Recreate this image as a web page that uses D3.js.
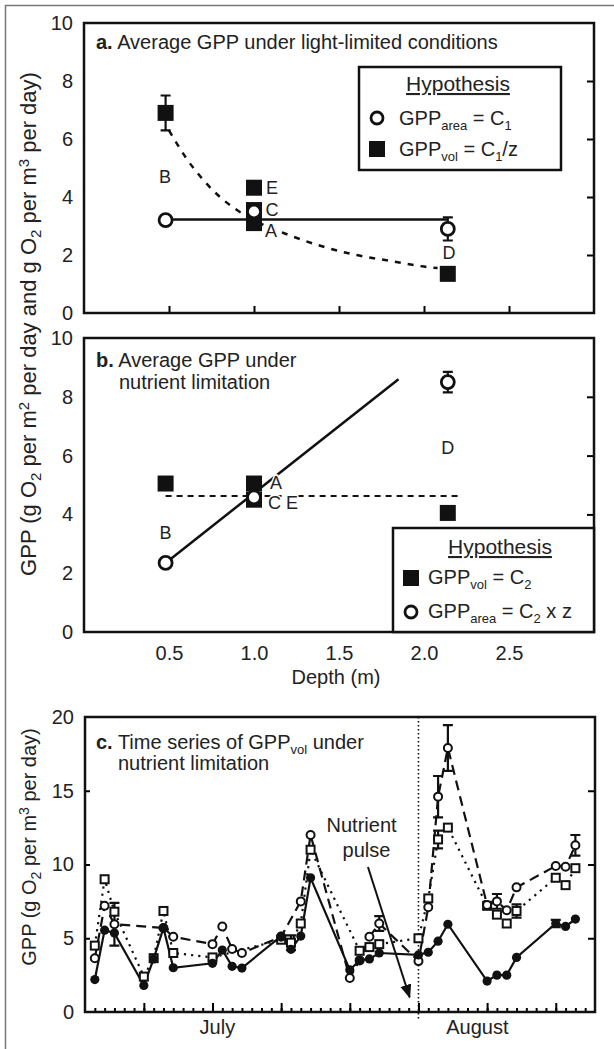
<!DOCTYPE html>
<html>
<head>
<meta charset="utf-8">
<title>GPP vs depth</title>
<script src="https://cdn.jsdelivr.net/npm/d3@7"></script>
<style>
  body { margin: 0; background: #fff; }
  svg text { font-family: 'Liberation Sans', Arial, sans-serif; fill: #222; }
</style>
</head>
<body>
<script>
// ---- panel a: light-limited ----
var areaDepthA = [0.48, 1.0, 2.14];
var areaA      = [3.2, 3.5, 2.9];
var areaErrA   = [0, 0, 0.4];
var volDepthA  = [0.48, 1.0, 1.0, 1.0, 2.14];
var volA       = [6.9, 4.32, 3.55, 3.1, 1.35];
var volErrA    = [0.6, 0, 0, 0, 0];
var meanAreaA  = 3.22;
var curveZ     = [0.5, 0.6, 0.7, 0.8, 0.9, 1.0, 1.2, 1.4, 1.6, 1.8, 2.0, 2.08];
var curveA     = [6.3, 5.35, 4.6, 4.0, 3.55, 3.2, 2.7, 2.3, 2.0, 1.8, 1.6, 1.55];
var lakeA      = ["B", "E", "C", "A", "D"];
var lakeAz     = [0.476, 1.106, 1.106, 1.10, 2.147];
var lakeAv     = [4.69, 4.33, 3.57, 2.86, 2.07];

// ---- panel b: nutrient limitation ----
var volDepthB  = [0.48, 1.0, 1.0, 2.14];
var volB       = [5.05, 5.05, 4.5, 4.05];
var areaDepthB = [0.48, 1.0, 2.14];
var areaB      = [2.35, 4.58, 8.5];
var areaErrB   = [0, 0, 0.35];
var meanVolB   = 4.63;
var fitZ       = [0.48, 1.85];
var fitB       = [2.35, 8.6];
var lakeB      = ["B", "A", "C E", "D"];
var lakeBz     = [0.48, 1.13, 1.17, 2.14];
var lakeBv     = [3.37, 5.07, 4.39, 6.26];
var depthTicks = [0.5, 1.0, 1.5, 2.0, 2.5];
var gppTicks   = [0, 2, 4, 6, 8, 10];

// ---- panel c: time series (day of record) ----
var fillDays = [1,2,3,6,7,8,9,13,14,15,16,20,21,22,23,27,28,29,30,34,35,36,37,41,42,43,44,48,49,50];
var fillGpp  = [2.2,5.55,5.35,1.8,3.6,5.7,3.0,3.3,4.2,3.1,2.98,5.15,4.25,5.15,9.1,2.85,3.5,3.6,4.0,3.87,4.05,4.8,5.95,2.1,2.5,2.5,3.7,6.0,5.8,6.3];
var circDays = [1,2,3,8,9,13,14,15,16,20,22,23,27,28,29,30,34,35,36,37,41,42,43,44,48,49,50];
var circGpp  = [3.65,7.2,5.95,5.7,5.1,4.6,5.8,4.27,4.0,5.1,7.5,12.0,2.3,3.5,5.1,6.0,3.45,7.1,14.6,17.9,7.25,7.5,6.9,8.45,9.9,9.85,11.3];
var sqDays   = [1,2,3,6,7,8,9,13,20,21,22,23,28,29,30,34,35,36,37,41,42,43,44,48,49,50];
var sqGpp    = [4.5,9.0,6.8,2.4,3.65,6.85,4.0,3.7,4.9,4.7,6.0,11.0,4.15,4.4,4.6,5.0,7.7,11.7,12.5,7.2,6.6,6.0,6.85,9.1,8.6,9.75];
var circErrDays = [3, 30, 36, 37, 42, 50];
var circErr     = [1.45, 0.5, 1.4, 1.55, 0.5, 0.7];
var sqErrDays   = [21, 36, 44];
var sqErr       = [0.5, 0.6, 0.45];
var fillErrDays = [48];
var fillErr     = [0.25];
var pulseDay = 34;
var months = ["July", "August"];
var monthMid = [13.5, 40];
var cTicks = [0, 5, 10, 15, 20];

var W = 614, H = 1049;
var svg = d3.select("body").append("svg").attr("width", W).attr("height", H);

var x  = d3.scaleLinear().domain([0, 3]).range([84, 594]);
var yA = d3.scaleLinear().domain([0, 10]).range([313, 23]);
var yB = d3.scaleLinear().domain([0, 10]).range([632, 338]);
var xC = d3.scaleLinear().domain([0, 52]).range([85, 595]);
var yC = d3.scaleLinear().domain([0, 20]).range([1012, 717]);

// page frame (top + left)
svg.append("path").attr("d", "M5.5," + H + "V5.5H" + W)
  .attr("fill", "none").attr("stroke", "#777").attr("stroke-width", 1.5);

// text with sub/superscripts: parts = [[str, "sub"|"sup"|"b"|null], ...]
function rich(t, parts, small) {
  var shift = 0;
  parts.forEach(function(p) {
    var ts = t.append("tspan").text(p[0]);
    var want = p[1] == "sub" ? 5 : p[1] == "sup" ? -7 : 0;
    if (want != shift) { ts.attr("dy", want - shift); shift = want; }
    if (p[1] == "sub" || p[1] == "sup") ts.attr("font-size", small || 13);
    if (p[1] == "b") ts.attr("font-weight", "bold");
  });
  return t;
}

function noDomain(g) { g.select(".domain").remove(); }

function axesFor(g, xs, ys, yTicks, rightTicks, showBottomTicks) {
  var x0 = xs.range()[0], x1 = xs.range()[1], y0 = ys.range()[0], y1 = ys.range()[1];
  g.append("g").attr("transform", "translate(" + x0 + ",0)")
    .call(d3.axisLeft(ys).tickValues(yTicks).tickSize(0).tickPadding(11))
    .attr("font-size", 20).call(noDomain);
  g.append("g").attr("transform", "translate(" + x1 + ",0)")
    .call(d3.axisLeft(ys).tickValues(rightTicks).tickSize(7).tickFormat(""))
    .attr("stroke-width", 2).call(noDomain);
  if (showBottomTicks) {
    g.append("g").attr("transform", "translate(0," + y0 + ")")
      .call(d3.axisTop(xs).tickValues(depthTicks).tickSize(7).tickFormat(""))
      .attr("stroke-width", 2).call(noDomain);
  }
  g.append("rect").attr("x", x0).attr("y", y1).attr("width", x1 - x0).attr("height", y0 - y1)
    .attr("fill", "none").attr("stroke", "#111").attr("stroke-width", 2.5);
}

function errBars(g, xs, ys, xv, yv, ev) {
  xv.forEach(function(d, i) {
    if (!ev[i]) return;
    var cx = xs(d), hi = ys(yv[i] + ev[i]), lo = ys(yv[i] - ev[i]);
    g.append("path").attr("d", "M" + cx + "," + hi + "V" + lo + "M" + (cx - 5) + "," + hi + "H" + (cx + 5) + "M" + (cx - 5) + "," + lo + "H" + (cx + 5))
      .attr("stroke", "#111").attr("stroke-width", 2.2).attr("fill", "none");
  });
}

function squares(g, xs, ys, xv, yv, s, fill) {
  g.selectAll(null).data(xv).enter().append("rect")
    .attr("x", function(d) { return xs(d) - s / 2; })
    .attr("y", function(d, i) { return ys(yv[i]) - s / 2; })
    .attr("width", s).attr("height", s)
    .attr("fill", fill).attr("stroke", "#111").attr("stroke-width", fill == "#111" ? 0 : 2);
}

function circles(g, xs, ys, xv, yv, r, fill, sw) {
  g.selectAll(null).data(xv).enter().append("circle")
    .attr("cx", function(d) { return xs(d); })
    .attr("cy", function(d, i) { return ys(yv[i]); })
    .attr("r", r).attr("fill", fill).attr("stroke", "#111").attr("stroke-width", sw);
}

function lakeLabels(g, ys, names, zs, vs) {
  g.selectAll(null).data(names).enter().append("text")
    .attr("x", function(d, i) { return x(zs[i]); })
    .attr("y", function(d, i) { return ys(vs[i]); })
    .attr("dy", "0.36em").attr("text-anchor", "middle").attr("font-size", 18)
    .attr("stroke", "#fff").attr("stroke-width", 3).attr("paint-order", "stroke")
    .text(function(d) { return d; });
}

function legendBox(g, bx0, by0, bx1, by1, hx, hy) {
  g.append("rect").attr("x", bx0).attr("y", by0).attr("width", bx1 - bx0).attr("height", by1 - by0)
    .attr("fill", "#fff").attr("stroke", "#111").attr("stroke-width", 2.5);
  g.append("text").attr("x", hx).attr("y", hy).attr("text-anchor", "middle").attr("font-size", 21)
    .style("text-decoration", "underline").text("Hypothesis");
}

// ================= panel a =================
var gA = svg.append("g");
axesFor(gA, x, yA, gppTicks, [2, 4, 6, 8], true);
gA.append("line").attr("x1", x(areaDepthA[0])).attr("x2", x(areaDepthA[2]))
  .attr("y1", yA(meanAreaA)).attr("y2", yA(meanAreaA)).attr("stroke", "#111").attr("stroke-width", 2.5);
gA.append("path").datum(curveZ)
  .attr("d", d3.line().curve(d3.curveMonotoneX).x(function(d) { return x(d); }).y(function(d, i) { return yA(curveA[i]); }))
  .attr("fill", "none").attr("stroke", "#111").attr("stroke-width", 2.5).attr("stroke-dasharray", "6,7");
errBars(gA, x, yA, volDepthA, volA, volErrA);
errBars(gA, x, yA, areaDepthA, areaA, areaErrA);
squares(gA, x, yA, volDepthA, volA, 16, "#111");
circles(gA, x, yA, areaDepthA, areaA, 6.5, "#fff", 2.8);
lakeLabels(gA, yA, lakeA, lakeAz, lakeAv);
rich(gA.append("text").attr("x", 96).attr("y", 49).attr("font-size", 20),
  [["a.", "b"], [" Average GPP under light-limited conditions", null]]);
legendBox(gA, 359, 67, 561, 170, 458, 91);
gA.append("circle").attr("cx", 377).attr("cy", 118).attr("r", 6).attr("fill", "#fff").attr("stroke", "#111").attr("stroke-width", 2.8);
gA.append("rect").attr("x", 369).attr("y", 141).attr("width", 16).attr("height", 16).attr("fill", "#111");
rich(gA.append("text").attr("x", 399).attr("y", 125).attr("font-size", 20),
  [["GPP", null], ["area", "sub"], [" = C", null], ["1", "sub"]]);
rich(gA.append("text").attr("x", 399).attr("y", 156).attr("font-size", 20),
  [["GPP", null], ["vol", "sub"], [" = C", null], ["1", "sub"], ["/z", null]]);

// ================= panel b =================
var gB = svg.append("g");
axesFor(gB, x, yB, gppTicks, [2, 4, 6, 8], false);
gB.append("g").attr("transform", "translate(0," + yB(0) + ")")
  .call(d3.axisBottom(x).tickValues(depthTicks).tickSize(0).tickPadding(14).tickFormat(d3.format(".1f")))
  .attr("font-size", 20).call(noDomain);
gB.append("text").attr("x", 336).attr("y", 684).attr("text-anchor", "middle").attr("font-size", 20).text("Depth (m)");
gB.append("line").attr("x1", x(volDepthB[0])).attr("x2", x(2.2))
  .attr("y1", yB(meanVolB)).attr("y2", yB(meanVolB))
  .attr("stroke", "#111").attr("stroke-width", 2).attr("stroke-dasharray", "6,5");
gB.append("line").attr("x1", x(fitZ[0])).attr("x2", x(fitZ[1]))
  .attr("y1", yB(fitB[0])).attr("y2", yB(fitB[1])).attr("stroke", "#111").attr("stroke-width", 2.5);
errBars(gB, x, yB, areaDepthB, areaB, areaErrB);
squares(gB, x, yB, volDepthB, volB, 16, "#111");
circles(gB, x, yB, areaDepthB, areaB, 6.5, "#fff", 2.8);
lakeLabels(gB, yB, lakeB, lakeBz, lakeBv);
rich(gB.append("text").attr("x", 96).attr("y", 367).attr("font-size", 20),
  [["b.", "b"], [" Average GPP under", null]]);
gB.append("text").attr("x", 119).attr("y", 389).attr("font-size", 20).text("nutrient limitation");
legendBox(gB, 393, 528, 594, 632, 500, 554);
gB.append("rect").attr("x", 403).attr("y", 570).attr("width", 16).attr("height", 16).attr("fill", "#111");
gB.append("circle").attr("cx", 411).attr("cy", 612).attr("r", 6).attr("fill", "#fff").attr("stroke", "#111").attr("stroke-width", 2.8);
rich(gB.append("text").attr("x", 428).attr("y", 584).attr("font-size", 20),
  [["GPP", null], ["vol", "sub"], [" = C", null], ["2", "sub"]]);
rich(gB.append("text").attr("x", 428).attr("y", 618).attr("font-size", 20),
  [["GPP", null], ["area", "sub"], [" = C", null], ["2", "sub"], [" x z", null]]);

// shared y title for a and b
rich(svg.append("text").attr("transform", "translate(36,324) rotate(-90)").attr("text-anchor", "middle").attr("font-size", 22),
  [["GPP (g O", null], ["2", "sub"], [" per m", null], ["2", "sup"], [" per day and g O", null], ["2", "sub"],
   [" per m", null], ["3", "sup"], [" per day)", null]], 15);

// ================= panel c =================
var gC = svg.append("g");
gC.append("g").attr("transform", "translate(" + xC(0) + ",0)")
  .call(d3.axisLeft(yC).tickValues(cTicks).tickSize(0).tickPadding(11))
  .attr("font-size", 20).call(noDomain);
gC.append("g").attr("transform", "translate(" + xC(0) + ",0)")
  .call(d3.axisRight(yC).tickValues([5, 10, 15]).tickSize(5).tickFormat(""))
  .attr("stroke-width", 2).call(noDomain);
gC.append("g").attr("transform", "translate(" + xC(52) + ",0)")
  .call(d3.axisLeft(yC).tickValues([5, 10, 15]).tickSize(7).tickFormat(""))
  .attr("stroke-width", 2).call(noDomain);
gC.append("g").attr("transform", "translate(0," + yC(0) + ")")
  .call(d3.axisTop(xC).tickValues(d3.range(1, 52)).tickSize(4).tickFormat(""))
  .attr("stroke-width", 2).call(noDomain);
gC.append("g").attr("transform", "translate(0," + yC(0) + ")")
  .call(d3.axisTop(xC).tickValues(d3.range(6, 52, 7)).tickSize(9).tickFormat(""))
  .attr("stroke-width", 2).call(noDomain);
gC.selectAll(null).data(months).enter().append("text")
  .attr("x", function(d, i) { return xC(monthMid[i]); }).attr("y", 1034)
  .attr("text-anchor", "middle").attr("font-size", 20).text(function(d) { return d; });

gC.append("line").attr("x1", xC(pulseDay)).attr("x2", xC(pulseDay)).attr("y1", yC(20)).attr("y2", yC(0) + 8)
  .attr("stroke", "#111").attr("stroke-width", 1.6).attr("stroke-dasharray", "1.6,2.4");

function seriesLine(days, vals, dash) {
  gC.append("path").datum(days)
    .attr("d", d3.line().x(function(d) { return xC(d); }).y(function(d, i) { return yC(vals[i]); }))
    .attr("fill", "none").attr("stroke", "#111").attr("stroke-width", 2.2)
    .attr("stroke-dasharray", dash);
}
seriesLine(sqDays, sqGpp, "2.2,5");
seriesLine(circDays, circGpp, "10,6");
seriesLine(fillDays, fillGpp, null);

function errAt(days, vals, eDays, eVals) {
  var ev = days.map(function(d) { var k = eDays.indexOf(d); return k < 0 ? 0 : eVals[k]; });
  errBars(gC, xC, yC, days, vals, ev);
}
errAt(sqDays, sqGpp, sqErrDays, sqErr);
errAt(circDays, circGpp, circErrDays, circErr);
errAt(fillDays, fillGpp, fillErrDays, fillErr);

squares(gC, xC, yC, sqDays, sqGpp, 8, "#fff");
circles(gC, xC, yC, circDays, circGpp, 4, "#fff", 2);
circles(gC, xC, yC, fillDays, fillGpp, 4.6, "#111", 0);

gC.append("rect").attr("x", xC(0)).attr("y", yC(20)).attr("width", xC(52) - xC(0)).attr("height", yC(0) - yC(20))
  .attr("fill", "none").attr("stroke", "#111").attr("stroke-width", 2.5);

rich(gC.append("text").attr("x", 96).attr("y", 749).attr("font-size", 20),
  [["c.", "b"], [" Time series of GPP", null], ["vol", "sub"], [" under", null]]);
gC.append("text").attr("x", 118).attr("y", 770).attr("font-size", 20).text("nutrient limitation");

gC.append("text").attr("x", xC(28.2)).attr("y", 832).attr("text-anchor", "middle").attr("font-size", 20).text("Nutrient");
gC.append("text").attr("x", xC(28.7)).attr("y", 857).attr("text-anchor", "middle").attr("font-size", 20).text("pulse");
svg.append("defs").append("marker").attr("id", "ah").attr("viewBox", "0 0 10 10").attr("refX", 9).attr("refY", 5)
  .attr("markerWidth", 7).attr("markerHeight", 7).attr("orient", "auto")
  .append("path").attr("d", "M0,1L10,5L0,9Z").attr("fill", "#111");
gC.append("line").attr("x1", xC(28.85)).attr("y1", yC(9.83)).attr("x2", xC(33.1)).attr("y2", yC(1.0))
  .attr("stroke", "#111").attr("stroke-width", 2).attr("marker-end", "url(#ah)");

rich(svg.append("text").attr("transform", "translate(36,847) rotate(-90)").attr("text-anchor", "middle").attr("font-size", 20),
  [["GPP (g O", null], ["2", "sub"], [" per m", null], ["3", "sup"], [" per day)", null]], 14);
</script>
</body>
</html>
